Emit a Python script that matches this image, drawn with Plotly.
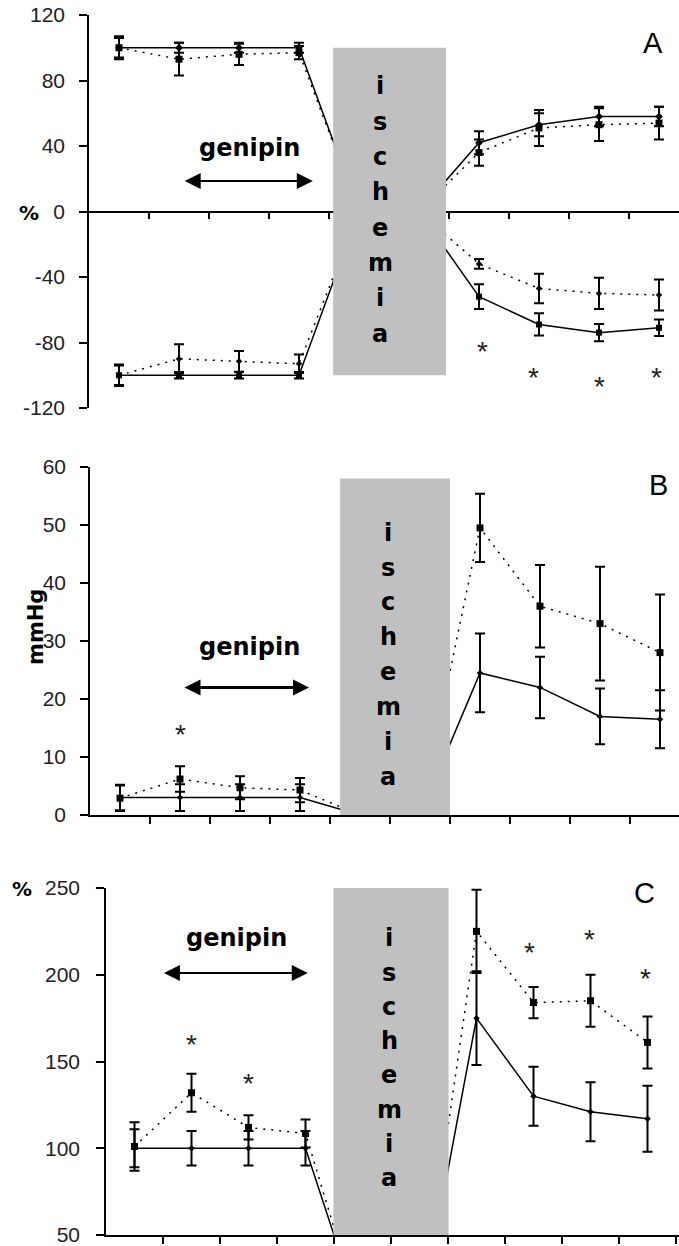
import plotly.graph_objects as go

W, H = 679, 1246

# ---------------- data ----------------
x_idx = [0, 1, 2, 3, 4, 5, 6, 7, 8, 9]

# Panel A (% of baseline)
a_top_solid = [100, 100, 100, 100, 0, 0, 42, 53, 58, 58]
a_top_solid_err = [7, 3, 3, 3, 0, 0, 7, 7, 6, 6]
a_top_dotted = [100, 93, 96, 97, 0, 0, 36, 51, 53, 54]
a_top_dotted_err = [6, 10, 6.5, 4, 0, 0, 8, 11, 10, 10]
a_bot_solid = [-100, -100, -100, -100, 0, 0, -52, -69, -74, -71]
a_bot_solid_err = [6.5, 2, 2, 2, 0, 0, 7.6, 6.8, 5.3, 5]
a_bot_dotted = [-100, -90, -91.5, -93, 0, 0, -32, -47, -50, -51]
a_bot_dotted_err = [6, 9, 6.3, 5.6, 0, 0, 3, 9, 9.6, 9.4]
a_star_x = [6.05, 6.9, 8.0, 8.95]
a_star_y = [-82, -98, -103, -98]
a_yticks = [120, 80, 40, 0, -40, -80, -120]
a_yticklabels = ["120", "80", "40", "0", "-40", "-80", "-120"]

# Panel B (mmHg)
b_solid = [3, 3, 3, 3, 0, 0, 24.5, 22, 17, 16.5]
b_solid_err = [2.2, 2.3, 2.3, 2.3, 0, 0, 6.8, 5.3, 4.8, 5]
b_dotted = [2.9, 6.2, 4.7, 4.3, 0, 0, 49.5, 36, 33, 28]
b_dotted_err = [2.2, 2.2, 2.0, 2.1, 0, 0, 5.9, 7.1, 9.8, 10]
b_star_x = [1.0, 6.1]
b_star_y = [15, 60.7]
b_yticks = [0, 10, 20, 30, 40, 50, 60]

# Panel C (%)
c_solid = [100, 100, 100, 100, 0, 0, 175, 130, 121, 117]
c_solid_err = [11, 10, 10, 10, 0, 0, 27, 17, 17, 19]
c_dotted = [101, 132, 112, 108.5, 0, 0, 225, 184, 185, 161]
c_dotted_err = [14, 11, 7, 8, 0, 0, 24, 9, 15, 15]
c_star_x = [1.0, 2.0, 6.93, 7.98, 8.96]
c_star_y = [163, 141, 216, 224, 201.5]
c_yticks = [50, 100, 150, 200, 250]

isch_letters = ["i", "s", "c", "h", "e", "m", "i", "a"]

# ---------------- figure ----------------
fig = go.Figure()

DOT = "2px,6px"


def add_series(y, err, xa, ya, dash, symbol, size):
    fig.add_trace(go.Scatter(
        x=x_idx, y=y, mode="lines+markers", xaxis=xa, yaxis=ya,
        line=dict(color="black", width=1.5, dash=dash),
        marker=dict(symbol=symbol, size=size, color="black"),
        error_y=dict(type="data", array=err, visible=True, color="black",
                     thickness=2, width=5),
        showlegend=False, hoverinfo="skip"))


add_series(a_top_dotted, a_top_dotted_err, "x", "y", DOT, "square", 7)
add_series(a_top_solid, a_top_solid_err, "x", "y", "solid", "diamond", 6)
add_series(a_bot_dotted, a_bot_dotted_err, "x", "y", DOT, "diamond", 5)
add_series(a_bot_solid, a_bot_solid_err, "x", "y", "solid", "square", 6)
add_series(b_dotted, b_dotted_err, "x2", "y2", DOT, "square", 7)
add_series(b_solid, b_solid_err, "x2", "y2", "solid", "diamond", 5)
add_series(c_dotted, c_dotted_err, "x3", "y3", DOT, "square", 7)
add_series(c_solid, c_solid_err, "x3", "y3", "solid", "diamond", 5)


def px_y(p):
    return 1 - p / H


axis_common = dict(showgrid=False, zeroline=False, showline=True,
                   linecolor="black", linewidth=1.5, ticks="outside",
                   tickcolor="black", tickwidth=1.5, automargin=False)
tick_font = dict(family="Liberation Sans, Arial", size=21, color="#222")

# Panel A: x axis crossing at 0
fig.update_layout(
    xaxis=dict(axis_common, domain=[89 / W, 1], range=[-0.5, -0.5 + 590 / 60],
               tickvals=[k + 0.5 for k in range(9)], showticklabels=False,
               ticklen=6, anchor="free", position=px_y(212)),
    yaxis=dict(axis_common, domain=[px_y(408), px_y(15)], range=[-120, 120],
               tickvals=a_yticks, ticktext=a_yticklabels, ticklen=8, tickfont=tick_font,
               ticklabelstandoff=10, ticklabeloverflow="allow", anchor="x"),
    xaxis2=dict(axis_common, domain=[90 / W, 1], range=[-0.5, -0.5 + 589 / 60],
                tickvals=[k + 0.5 for k in range(9)], showticklabels=False,
                ticklen=7, anchor="y2"),
    yaxis2=dict(axis_common, domain=[px_y(815), px_y(467)], range=[0, 60],
                tickvals=b_yticks, ticklen=8, tickfont=tick_font,
                ticklabelstandoff=10, ticklabeloverflow="allow", anchor="x2"),
    xaxis3=dict(axis_common, domain=[106 / W, 1], range=[-0.5, -0.5 + 573 / 57],
                tickvals=[k + 0.5 for k in range(10)], showticklabels=False,
                ticklen=7, anchor="y3"),
    yaxis3=dict(axis_common, domain=[px_y(1235), px_y(888)], range=[50, 250],
                tickvals=c_yticks, ticklen=8, tickfont=tick_font,
                ticklabelstandoff=12, ticklabeloverflow="allow", anchor="x3"),
)

# ischemia boxes
boxes = [("x", "y", 3.57, 5.45, -100, 100),
         ("x2", "y2", 3.67, 5.5, 0, 58),
         ("x3", "y3", 3.49, 5.51, 50, 250)]
for xr, yr, x0, x1, y0, y1 in boxes:
    fig.add_shape(type="rect", xref=xr, yref=yr, x0=x0, x1=x1, y0=y0, y1=y1,
                  fillcolor="#C0C0C0", line=dict(width=0), layer="above")

bold = dict(family="DejaVu Sans", size=24, color="black")
ann = []

# ischemia vertical letters: (xref, yref, x center, y of first letter, step)
isch_pos = [("x", "y", 4.35, 76.5, 21.6),
            ("x2", "y2", 4.47, 48.7, 6.03),
            ("x3", "y3", 4.47, 221, 19.76)]
for xr, yr, xc, ytop, step in isch_pos:
    for i, ch in enumerate(isch_letters):
        ann.append(dict(xref=xr, yref=yr, x=xc, y=ytop - i * step, text="<b>%s</b>" % ch,
                        showarrow=False, font=bold, xanchor="center", yanchor="middle"))

# genipin labels and arrows
gen = [("x", "y", 2.18, 38.8, 1.07, 3.23, 18.6, 2),
       ("x2", "y2", 2.15, 29, 1.05, 3.15, 22, 3),
       ("x3", "y3", 1.79, 221, 0.49, 3.04, 201, 2)]
for xr, yr, gx, gy, a0, a1, ay, aw in gen:
    ann.append(dict(xref=xr, yref=yr, x=gx, y=gy, text="<b>genipin</b>",
                    showarrow=False, font=bold, xanchor="center", yanchor="middle"))
    ann.append(dict(xref=xr, yref=yr, x=a1, y=ay, axref=xr, ayref=yr, ax=a0, ay=ay,
                    text="", showarrow=True, arrowhead=2, startarrowhead=2,
                    arrowside="end+start", arrowsize=1.6 * 2 / aw,
                    startarrowsize=1.6 * 2 / aw, arrowwidth=aw,
                    arrowcolor="black", standoff=0, startstandoff=0))

# asterisks
star_font = dict(family="Liberation Sans, Arial", size=28, color="#222")
for xr, yr, sx, sy in [("x", "y", a_star_x, a_star_y),
                       ("x2", "y2", b_star_x, b_star_y),
                       ("x3", "y3", c_star_x, c_star_y)]:
    for xv, yv in zip(sx, sy):
        ann.append(dict(xref=xr, yref=yr, x=xv, y=yv, text="*", showarrow=False,
                        font=star_font, yshift=-6, xanchor="center", yanchor="middle"))

# panel letters
letter_font = dict(family="Liberation Sans, Arial", size=29, color="black")
for xr, yr, lx, ly, t in [("x", "y", 8.9, 103, "A"), ("x2", "y2", 8.98, 56.9, "B"),
                          ("x3", "y3", 8.95, 247, "C")]:
    ann.append(dict(xref=xr, yref=yr, x=lx, y=ly, text=t, showarrow=False,
                    font=letter_font, xanchor="center", yanchor="middle"))

# axis unit labels
unit_font = dict(family="DejaVu Sans", size=20, color="black")
ann.append(dict(xref="paper", yref="paper", x=29 / W, y=px_y(213), text="<b>%</b>",
                showarrow=False, font=unit_font, xanchor="center", yanchor="middle"))
ann.append(dict(xref="paper", yref="paper", x=22 / W, y=px_y(889), text="<b>%</b>",
                showarrow=False, font=unit_font, xanchor="center", yanchor="middle"))
ann.append(dict(xref="paper", yref="paper", x=36 / W, y=px_y(627), text="<b>mmHg</b>",
                showarrow=False, font=dict(family="DejaVu Sans", size=21, color="black"),
                textangle=-90, xanchor="center", yanchor="middle"))

fig.update_layout(annotations=ann, width=W, height=H, autosize=False,
                  margin=dict(l=0, r=0, t=0, b=0, pad=0),
                  paper_bgcolor="white", plot_bgcolor="white")

fig.write_html("out.html", config={"displayModeBar": False},
               post_script="document.body.style.margin='0';"
                           "document.body.style.overflow='hidden';")
